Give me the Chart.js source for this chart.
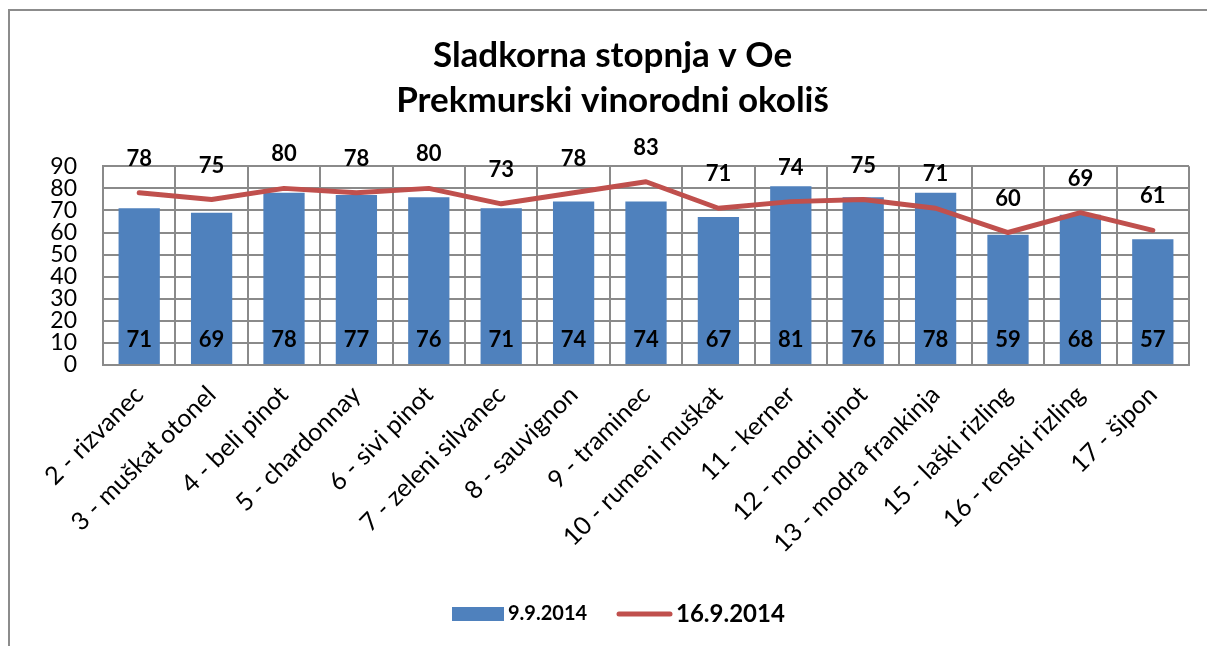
<!DOCTYPE html>
<html><head><meta charset="utf-8">
<script src="https://cdn.jsdelivr.net/npm/chart.js@4.4.1/dist/chart.umd.min.js"></script>
<style>html,body{margin:0;padding:0;background:#fff;} #wrap{position:relative;width:1207px;height:646px;}</style>
</head><body><div id="wrap"><canvas id="c" width="1207" height="646"></canvas></div>
<script>
const categories = ['2 - rizvanec','3 - muškat otonel','4 - beli pinot','5 - chardonnay','6 - sivi pinot','7 - zeleni silvanec','8 - sauvignon','9 - traminec','10 - rumeni muškat','11 - kerner','12 - modri pinot','13 - modra frankinja','15 - laški rizling','16 - renski rizling','17 - šipon'];
const values0909 = [71,69,78,77,76,71,74,74,67,81,76,78,59,68,57];
const values1609 = [78,75,80,78,80,73,78,83,71,74,75,71,60,69,61];
const seriesNames = ['9.9.2014','16.9.2014'];
const titleLines = ['Sladkorna stopnja v Oe','Prekmurski vinorodni okoliš'];
const yMin = 0, yMax = 90, yStep = 10;

const FONT = 'Lato, "Open Sans", sans-serif';
const BAR_COLOR = '#4F81BD', LINE_COLOR = '#C0504D', GRID = '#8a8a8a';

const framePlugin = {
  id: 'frame',
  afterLayout(chart) {
    if (chart.titleBlock) { chart.titleBlock.left += 13; chart.titleBlock.right += 13; }
  },
  beforeDraw(chart) {
    const ctx = chart.ctx;
    ctx.save();
    ctx.fillStyle = '#fff';
    ctx.fillRect(0, 0, chart.width, chart.height);
    ctx.strokeStyle = '#8c8c8c';
    ctx.lineWidth = 2;
    ctx.beginPath();
    ctx.moveTo(9, chart.height);
    ctx.lineTo(9, 10);
    ctx.lineTo(chart.width, 10);
    ctx.stroke();
    ctx.restore();
  }
};

const labelPlugin = {
  id: 'valueLabels',
  afterDatasetsDraw(chart) {
    const ctx = chart.ctx;
    const y0 = chart.scales.y.getPixelForValue(0);
    ctx.save();
    ctx.fillStyle = '#000';
    ctx.textAlign = 'center';
    ctx.textBaseline = 'middle';
    ctx.font = 'bold 22px ' + FONT;
    const barMeta = chart.getDatasetMeta(0);
    barMeta.data.forEach((el, i) => {
      ctx.fillText(String(chart.data.datasets[0].data[i]), el.x, y0 - 25);
    });
    const lineMeta = chart.getDatasetMeta(1);
    lineMeta.data.forEach((el, i) => {
      ctx.fillText(String(chart.data.datasets[1].data[i]), el.x, el.y - 34);
    });
    ctx.restore();
  }
};

const legendPlugin = {
  id: 'customLegend',
  afterDraw(chart) {
    const ctx = chart.ctx;
    const ds = chart.data.datasets;
    const cy = 614;
    ctx.save();
    ctx.fillStyle = ds[0].backgroundColor;
    ctx.fillRect(452, cy - 7, 52, 14);
    ctx.fillStyle = '#000';
    ctx.textBaseline = 'middle';
    ctx.textAlign = 'left';
    ctx.font = 'bold 20px ' + FONT;
    ctx.fillText(ds[0].label, 508, cy);
    ctx.strokeStyle = ds[1].borderColor;
    ctx.lineWidth = 5;
    ctx.lineCap = 'round';
    ctx.beginPath();
    ctx.moveTo(619, cy);
    ctx.lineTo(670, cy);
    ctx.stroke();
    ctx.font = 'bold 24px ' + FONT;
    ctx.fillText(ds[1].label, 676, cy);
    ctx.restore();
  }
};

new Chart(document.getElementById('c'), {
  data: {
    labels: categories,
    datasets: [
      { type: 'bar', label: seriesNames[0], data: values0909, backgroundColor: BAR_COLOR,
        barPercentage: 0.57, categoryPercentage: 1, order: 2 },
      { type: 'line', label: seriesNames[1], data: values1609, borderColor: LINE_COLOR,
        backgroundColor: LINE_COLOR, borderWidth: 5, pointRadius: 0, pointHoverRadius: 0,
        tension: 0, borderCapStyle: 'round', borderJoinStyle: 'round', order: 1 }
    ]
  },
  options: {
    responsive: false,
    animation: false,
    devicePixelRatio: 1,
    layout: { padding: { left: 10, right: 18, top: 0, bottom: 0 } },
    plugins: {
      legend: { display: false },
      tooltip: { enabled: false },
      title: {
        display: true,
        text: titleLines,
        color: '#000',
        font: { family: FONT, size: 35, weight: 'bold', lineHeight: 1.29 },
        padding: { top: 33, bottom: 43 }
      }
    },
    scales: {
      x: {
        offset: true,
        grid: { display: true, offset: true, color: GRID, lineWidth: 2, drawTicks: false },
        border: { display: true, color: GRID, width: 2 },
        ticks: { autoSkip: false, minRotation: 45, maxRotation: 45, padding: 15, color: '#000',
                 font: { family: FONT, size: 25 } },
        afterFit(scale) { scale.height = 281; }
      },
      y: {
        min: yMin, max: yMax,
        grid: { color: GRID, lineWidth: 2, drawTicks: false },
        border: { display: true, color: GRID, width: 2 },
        ticks: { stepSize: yStep, autoSkip: false, padding: 26, color: '#000', font: { family: FONT, size: 23 } },
        afterFit(scale) { scale.width = 93; }
      }
    }
  },
  plugins: [framePlugin, labelPlugin, legendPlugin]
});
</script>
</body></html>
